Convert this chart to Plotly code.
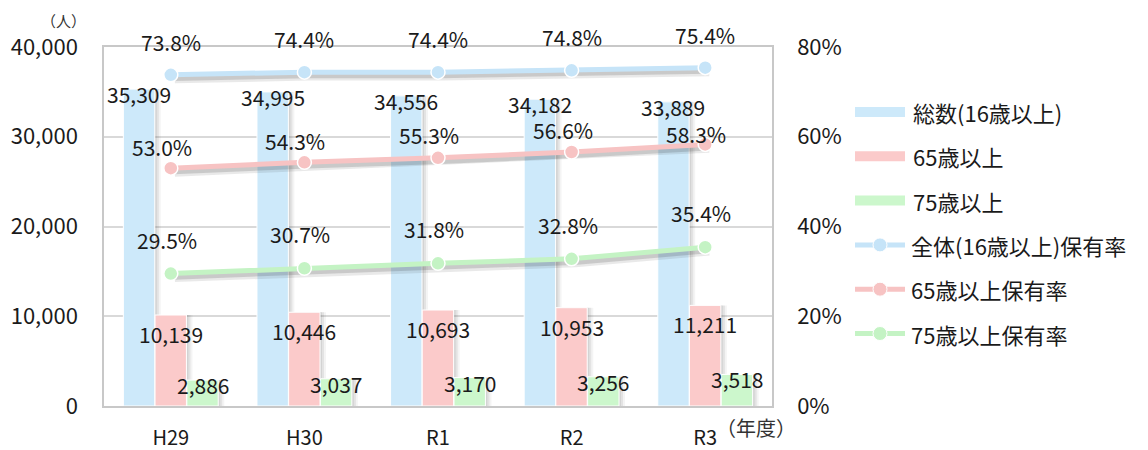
import plotly.graph_objects as go

categories = ["H29", "H30", "R1", "R2", "R3"]
total_16 = [35309, 34995, 34556, 34182, 33889]
over_65 = [10139, 10446, 10693, 10953, 11211]
over_75 = [2886, 3037, 3170, 3256, 3518]
rate_total = [73.8, 74.4, 74.4, 74.8, 75.4]
rate_65 = [53.0, 54.3, 55.3, 56.6, 58.3]
rate_75 = [29.5, 30.7, 31.8, 32.8, 35.4]

bar_names = ["総数(16歳以上)", "65歳以上", "75歳以上"]
line_names = ["全体(16歳以上)保有率", "65歳以上保有率", "75歳以上保有率"]

FONT = "Noto Sans CJK JP"
TXT = "#1a1a1a"
bar_cols = ["#CDE9FA", "#FBCACA", "#CCF7CC"]
line_cols = ["#C6E4F8", "#F7C3C3", "#C4F3C4"]

# page body has an 8px margin; figure is sized to fit the window
OFF = 8
W, H = 1140, 442
L, T = 104 - OFF, 47 - OFF
PW, PH = 668, 359
R, B = W - L - PW, H - T - PH

xs = list(range(len(categories)))
BW = 0.235
offsets = [-0.355, -0.118, 0.12]

fig = go.Figure()

bars = [total_16, over_65, over_75]
# bar shadows (drawn first)
for vals, off in zip(bars, offsets):
    for dx, a in [(0.045, 0.06), (0.03, 0.09), (0.015, 0.09)]:
        fig.add_trace(go.Bar(x=xs, y=vals, width=BW, offset=off + dx,
                             marker_color=f"rgba(60,60,60,{a})", marker_line_width=0,
                             showlegend=False, hoverinfo="skip", yaxis="y"))
for name, vals, off, col in zip(bar_names, bars, offsets, bar_cols):
    fig.add_trace(go.Bar(x=xs, y=vals, width=BW, offset=off, name=name,
                         marker_color=col, marker_line_color="white",
                         marker_line_width=1, showlegend=False, yaxis="y"))

lines = [rate_total, rate_65, rate_75]
# line shadows
for vals in lines:
    for dx, dy, a, w in [(0.03, -1.0, 0.10, 8), (0.022, -0.8, 0.16, 5)]:
        fig.add_trace(go.Scatter(x=[x + dx for x in xs], y=[v + dy for v in vals],
                                 mode="lines", line=dict(color=f"rgba(40,40,40,{a})", width=w),
                                 showlegend=False, hoverinfo="skip", yaxis="y2"))
for name, vals, col in zip(line_names, lines, line_cols):
    fig.add_trace(go.Scatter(x=xs, y=vals, name=name, mode="lines+markers",
                             line=dict(color=col, width=5),
                             marker=dict(color=col, size=14, line=dict(color="white", width=1.5)),
                             showlegend=False, yaxis="y2"))

NUMFONT = dict(family=FONT, size=21, color=TXT)
# bar labels
for vals, off, ys in zip(bars, offsets, [-5, -19, -5]):
    for i, v in enumerate(vals):
        fig.add_annotation(x=xs[i] + off + BW / 2, y=v, xref="x", yref="y",
                           text=f"{v:,}", showarrow=False, yshift=ys, font=NUMFONT,
                           xanchor="center", yanchor="middle")
# line labels (per-point label lift in pixels)
label_lift = [[33, 33, 33, 33, 33], [21, 21, 23, 22, 10], [34, 34, 34, 34, 34]]
for vals, lifts, xsh in zip(lines, label_lift, [0, -9, -4]):
    for i, v in enumerate(vals):
        fig.add_annotation(x=xs[i], y=v, xref="x", yref="y2",
                           text=f"{v:.1f}%", showarrow=False, yshift=lifts[i], xshift=xsh,
                           font=NUMFONT, xanchor="center", yanchor="middle")

def xp(px):
    return (px - OFF - L) / PW

def yp(py):
    return (T + PH - (py - OFF)) / PH

fig.add_annotation(x=xp(63), y=yp(21), xref="paper", yref="paper", text="（人）",
                   showarrow=False, xanchor="center", yanchor="middle",
                   font=dict(family=FONT, size=15, color="#333"))
fig.add_annotation(x=xp(756), y=yp(427), xref="paper", yref="paper", text="（年度）",
                   showarrow=False, xanchor="center", yanchor="middle",
                   font=dict(family=FONT, size=20, color="#333"))

# custom legend
row0, step = 112, 44.3
for k, (name, col) in enumerate(zip(bar_names, bar_cols)):
    cy = row0 + k * step
    fig.add_shape(type="rect", xref="paper", yref="paper",
                  x0=xp(855), x1=xp(905), y0=yp(cy + 5), y1=yp(cy - 5),
                  fillcolor=col, line_width=0)
    fig.add_annotation(x=xp(911), y=yp(cy), xref="paper", yref="paper", text=name,
                       xanchor="left", yanchor="middle", showarrow=False,
                       font=dict(family=FONT, size=22, color=TXT))
for k, (name, col) in enumerate(zip(line_names, line_cols)):
    cy = row0 + (k + 3) * step
    fig.add_shape(type="line", xref="paper", yref="paper",
                  x0=xp(855), x1=xp(905), y0=yp(cy), y1=yp(cy),
                  line=dict(color=col, width=5))
    fig.add_shape(type="circle", xref="paper", yref="paper",
                  x0=xp(873), x1=xp(887), y0=yp(cy + 7), y1=yp(cy - 7),
                  fillcolor=col, line=dict(color="white", width=1))
    fig.add_annotation(x=xp(909), y=yp(cy), xref="paper", yref="paper", text=name,
                       xanchor="left", yanchor="middle", showarrow=False,
                       font=dict(family=FONT, size=22, color=TXT))

fig.update_layout(
    width=W, height=H,
    margin=dict(l=L, r=R, t=T, b=B),
    paper_bgcolor="white", plot_bgcolor="white",
    barmode="overlay",
    font=dict(family=FONT, size=20, color=TXT),
    showlegend=False,
    xaxis=dict(range=[-0.5, len(categories) - 0.5], tickvals=xs, ticktext=categories,
               showgrid=False, showline=True, linecolor="#C8C8C8", linewidth=1.5,
               mirror=True, ticks="", tickfont=dict(size=20), ticklabelstandoff=13,
               automargin=False, zeroline=False),
    yaxis=dict(range=[0, 40000], dtick=10000, tickformat=",", showgrid=True,
               gridcolor="#D9D9D9", gridwidth=1.5, showline=True, linecolor="#C8C8C8",
               linewidth=1.5, ticks="", tickfont=dict(size=22), ticklabelstandoff=20,
               zeroline=False, automargin=False),
    yaxis2=dict(range=[0, 80], dtick=20, ticksuffix="%", overlaying="y", side="right",
                showgrid=False, showline=True, linecolor="#C8C8C8", linewidth=1.5,
                ticks="", tickfont=dict(size=22), ticklabelstandoff=19,
                zeroline=False, automargin=False),
)

fig.write_html("out.html")
